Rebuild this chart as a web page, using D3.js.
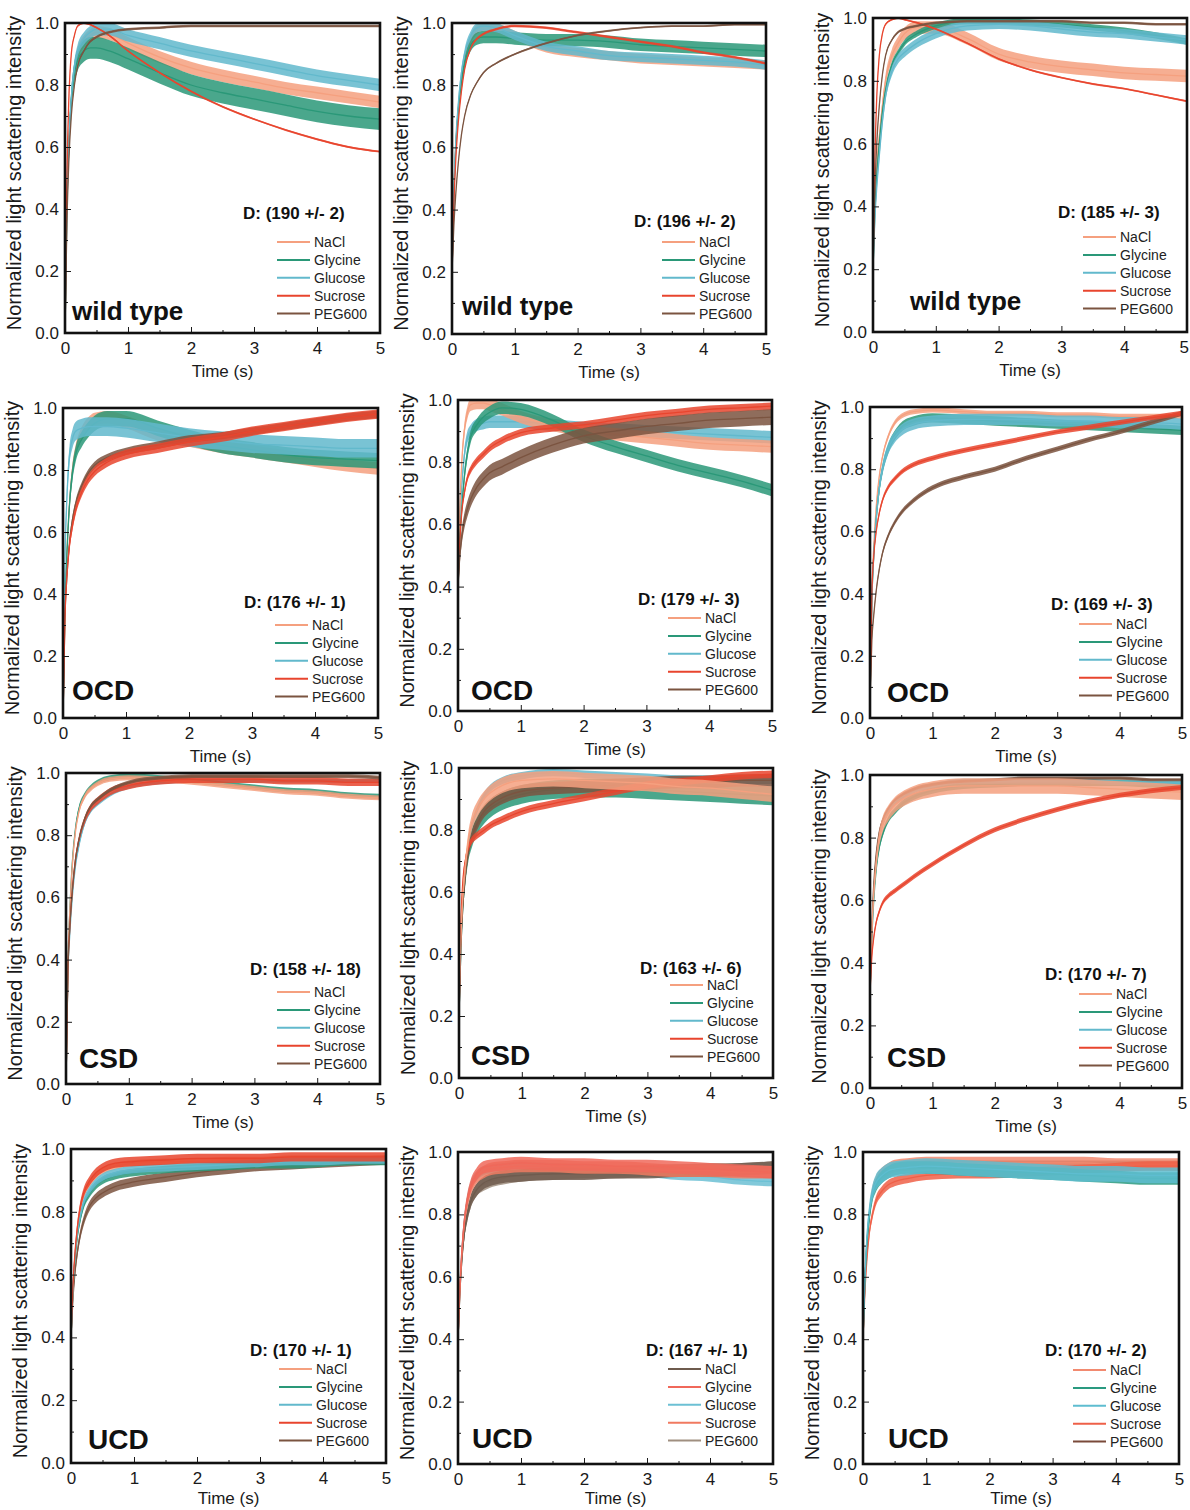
<!DOCTYPE html>
<html>
<head>
<meta charset="utf-8">
<script src="https://cdn.jsdelivr.net/npm/d3@7"></script>
<style>
  body { margin: 0; background: #fff; }
  svg { display: block; font-family: "Liberation Sans", Arial, sans-serif; }
</style>
</head>
<body>
<svg id="chart" width="1190" height="1510"></svg>
<script>
// shared time base (s)
const time = [0, 0.03, 0.06, 0.1, 0.15, 0.2, 0.3, 0.4, 0.5, 0.7, 1, 1.5, 2, 2.5, 3, 3.5, 4, 4.5, 5];
const seriesNames = ['NaCl', 'Glycine', 'Glucose', 'Sucrose', 'PEG600'];

// rows: NaCl, Glycine, Glucose, Sucrose, PEG600
const wt190 = [
  [0.00, 0.40, 0.60, 0.75, 0.85, 0.90, 0.94, 0.96, 0.97, 0.965, 0.935, 0.89, 0.855, 0.83, 0.81, 0.79, 0.775, 0.76, 0.745],
  [0.00, 0.40, 0.60, 0.75, 0.84, 0.88, 0.91, 0.92, 0.92, 0.91, 0.885, 0.84, 0.80, 0.775, 0.755, 0.735, 0.715, 0.70, 0.69],
  [0.00, 0.40, 0.60, 0.76, 0.86, 0.91, 0.95, 0.97, 0.98, 0.98, 0.96, 0.935, 0.91, 0.89, 0.87, 0.85, 0.83, 0.815, 0.80],
  [0.00, 0.50, 0.75, 0.90, 0.96, 0.99, 1.00, 0.995, 0.985, 0.96, 0.91, 0.84, 0.78, 0.73, 0.69, 0.655, 0.625, 0.60, 0.585],
  [0.00, 0.35, 0.55, 0.70, 0.80, 0.86, 0.91, 0.94, 0.955, 0.97, 0.98, 0.985, 0.99, 0.99, 0.99, 0.99, 0.99, 0.99, 0.99],
];
const wt196 = [
  [0.20, 0.45, 0.60, 0.72, 0.82, 0.88, 0.95, 0.98, 0.99, 0.985, 0.96, 0.92, 0.905, 0.895, 0.885, 0.88, 0.875, 0.87, 0.865],
  [0.20, 0.45, 0.60, 0.72, 0.81, 0.87, 0.93, 0.95, 0.955, 0.955, 0.95, 0.945, 0.945, 0.94, 0.93, 0.925, 0.92, 0.915, 0.91],
  [0.20, 0.46, 0.62, 0.74, 0.84, 0.90, 0.96, 0.985, 0.99, 0.985, 0.96, 0.925, 0.91, 0.895, 0.89, 0.885, 0.88, 0.875, 0.865],
  [0.20, 0.42, 0.56, 0.68, 0.78, 0.85, 0.92, 0.95, 0.965, 0.98, 0.99, 0.985, 0.97, 0.955, 0.94, 0.925, 0.905, 0.89, 0.87],
  [0.20, 0.35, 0.45, 0.55, 0.64, 0.70, 0.77, 0.81, 0.84, 0.87, 0.90, 0.935, 0.96, 0.975, 0.985, 0.99, 0.99, 0.995, 0.995],
];
const wt185 = [
  [0.20, 0.40, 0.52, 0.62, 0.72, 0.80, 0.88, 0.92, 0.95, 0.97, 0.97, 0.935, 0.885, 0.86, 0.845, 0.835, 0.825, 0.82, 0.815],
  [0.20, 0.38, 0.50, 0.60, 0.70, 0.77, 0.85, 0.89, 0.92, 0.95, 0.975, 0.99, 0.99, 0.985, 0.98, 0.97, 0.96, 0.945, 0.925],
  [0.20, 0.36, 0.46, 0.56, 0.67, 0.75, 0.83, 0.87, 0.89, 0.92, 0.95, 0.975, 0.98, 0.975, 0.965, 0.955, 0.95, 0.94, 0.93],
  [0.20, 0.55, 0.75, 0.88, 0.95, 0.98, 0.995, 1.00, 0.995, 0.985, 0.965, 0.92, 0.87, 0.835, 0.81, 0.79, 0.775, 0.755, 0.735],
  [0.20, 0.45, 0.60, 0.72, 0.82, 0.88, 0.93, 0.955, 0.965, 0.975, 0.985, 0.99, 0.99, 0.99, 0.99, 0.985, 0.985, 0.98, 0.98],
];
const ocd176 = [
  [0.00, 0.35, 0.52, 0.68, 0.80, 0.86, 0.92, 0.95, 0.965, 0.97, 0.955, 0.915, 0.895, 0.875, 0.86, 0.845, 0.83, 0.815, 0.805],
  [0.00, 0.35, 0.52, 0.68, 0.79, 0.85, 0.90, 0.93, 0.95, 0.965, 0.965, 0.935, 0.905, 0.88, 0.865, 0.85, 0.84, 0.835, 0.83],
  [0.00, 0.50, 0.70, 0.84, 0.90, 0.925, 0.935, 0.94, 0.94, 0.94, 0.935, 0.92, 0.905, 0.895, 0.885, 0.88, 0.875, 0.87, 0.87],
  [0.00, 0.32, 0.45, 0.55, 0.62, 0.67, 0.73, 0.77, 0.795, 0.825, 0.85, 0.87, 0.89, 0.905, 0.925, 0.94, 0.955, 0.97, 0.98],
  [0.00, 0.32, 0.45, 0.56, 0.64, 0.69, 0.75, 0.79, 0.815, 0.84, 0.86, 0.88, 0.90, 0.91, 0.925, 0.94, 0.955, 0.97, 0.98],
];
const ocd179 = [
  [0.40, 0.65, 0.80, 0.90, 0.96, 0.985, 0.99, 0.99, 0.985, 0.97, 0.945, 0.92, 0.90, 0.89, 0.88, 0.87, 0.86, 0.855, 0.85],
  [0.40, 0.55, 0.65, 0.75, 0.83, 0.88, 0.92, 0.945, 0.96, 0.975, 0.97, 0.935, 0.885, 0.85, 0.82, 0.79, 0.765, 0.74, 0.71],
  [0.40, 0.60, 0.72, 0.82, 0.88, 0.90, 0.92, 0.925, 0.93, 0.93, 0.93, 0.92, 0.91, 0.905, 0.90, 0.895, 0.89, 0.885, 0.88],
  [0.40, 0.55, 0.64, 0.70, 0.75, 0.775, 0.805, 0.825, 0.845, 0.87, 0.895, 0.91, 0.92, 0.935, 0.95, 0.96, 0.97, 0.975, 0.98],
  [0.40, 0.50, 0.56, 0.61, 0.65, 0.68, 0.72, 0.745, 0.765, 0.785, 0.815, 0.855, 0.885, 0.90, 0.915, 0.925, 0.935, 0.94, 0.945],
];
const ocd169 = [
  [0.05, 0.40, 0.55, 0.68, 0.78, 0.84, 0.91, 0.95, 0.97, 0.985, 0.99, 0.985, 0.98, 0.98, 0.975, 0.975, 0.97, 0.97, 0.97],
  [0.05, 0.38, 0.52, 0.64, 0.74, 0.80, 0.87, 0.91, 0.935, 0.955, 0.965, 0.96, 0.955, 0.95, 0.945, 0.94, 0.935, 0.93, 0.925],
  [0.05, 0.38, 0.52, 0.64, 0.74, 0.80, 0.87, 0.905, 0.925, 0.945, 0.955, 0.96, 0.96, 0.96, 0.955, 0.955, 0.95, 0.95, 0.945],
  [0.05, 0.40, 0.52, 0.60, 0.66, 0.70, 0.745, 0.77, 0.79, 0.815, 0.835, 0.86, 0.88, 0.90, 0.92, 0.935, 0.95, 0.965, 0.98],
  [0.05, 0.25, 0.33, 0.41, 0.48, 0.53, 0.59, 0.63, 0.66, 0.70, 0.74, 0.775, 0.80, 0.835, 0.865, 0.895, 0.92, 0.95, 0.98],
];
const csd158 = [
  [0.00, 0.38, 0.55, 0.70, 0.81, 0.87, 0.925, 0.95, 0.965, 0.98, 0.985, 0.98, 0.97, 0.96, 0.95, 0.94, 0.935, 0.925, 0.92],
  [0.00, 0.38, 0.55, 0.71, 0.82, 0.88, 0.93, 0.955, 0.97, 0.985, 0.99, 0.985, 0.975, 0.965, 0.955, 0.945, 0.94, 0.93, 0.925],
  [0.00, 0.35, 0.48, 0.60, 0.70, 0.76, 0.84, 0.88, 0.90, 0.93, 0.955, 0.97, 0.975, 0.975, 0.975, 0.975, 0.975, 0.975, 0.975],
  [0.00, 0.36, 0.50, 0.62, 0.72, 0.78, 0.85, 0.89, 0.91, 0.94, 0.96, 0.975, 0.98, 0.98, 0.98, 0.975, 0.975, 0.97, 0.97],
  [0.00, 0.36, 0.50, 0.62, 0.72, 0.78, 0.855, 0.895, 0.915, 0.945, 0.97, 0.985, 0.99, 0.99, 0.99, 0.99, 0.99, 0.99, 0.985],
];
const csd163 = [
  [0.20, 0.45, 0.58, 0.68, 0.77, 0.82, 0.87, 0.90, 0.92, 0.945, 0.96, 0.965, 0.96, 0.955, 0.95, 0.94, 0.935, 0.925, 0.915],
  [0.20, 0.42, 0.55, 0.65, 0.73, 0.77, 0.82, 0.85, 0.87, 0.895, 0.915, 0.93, 0.935, 0.935, 0.93, 0.925, 0.92, 0.915, 0.91],
  [0.20, 0.44, 0.57, 0.67, 0.76, 0.81, 0.87, 0.91, 0.935, 0.96, 0.975, 0.985, 0.98, 0.975, 0.97, 0.965, 0.965, 0.96, 0.96],
  [0.20, 0.50, 0.63, 0.70, 0.745, 0.765, 0.785, 0.80, 0.815, 0.835, 0.86, 0.885, 0.905, 0.925, 0.945, 0.955, 0.965, 0.975, 0.98],
  [0.20, 0.42, 0.55, 0.65, 0.73, 0.775, 0.825, 0.86, 0.88, 0.905, 0.925, 0.935, 0.94, 0.945, 0.95, 0.955, 0.955, 0.96, 0.96],
];
const csd170 = [
  [0.30, 0.50, 0.62, 0.72, 0.80, 0.84, 0.88, 0.905, 0.92, 0.94, 0.955, 0.965, 0.965, 0.965, 0.965, 0.96, 0.955, 0.95, 0.945],
  [0.30, 0.48, 0.60, 0.70, 0.77, 0.81, 0.86, 0.885, 0.905, 0.93, 0.95, 0.965, 0.97, 0.975, 0.975, 0.975, 0.975, 0.97, 0.97],
  [0.30, 0.50, 0.62, 0.72, 0.80, 0.84, 0.885, 0.91, 0.925, 0.95, 0.965, 0.98, 0.98, 0.98, 0.98, 0.98, 0.975, 0.975, 0.975],
  [0.30, 0.42, 0.48, 0.53, 0.565, 0.59, 0.615, 0.63, 0.645, 0.675, 0.715, 0.775, 0.825, 0.86, 0.89, 0.915, 0.935, 0.95, 0.96],
  [0.30, 0.52, 0.65, 0.75, 0.82, 0.855, 0.895, 0.92, 0.935, 0.955, 0.97, 0.98, 0.985, 0.99, 0.99, 0.99, 0.99, 0.985, 0.985],
];
const ucd170 = [
  [0.40, 0.55, 0.65, 0.74, 0.81, 0.85, 0.89, 0.915, 0.93, 0.945, 0.955, 0.96, 0.96, 0.965, 0.965, 0.97, 0.97, 0.97, 0.97],
  [0.40, 0.55, 0.64, 0.72, 0.78, 0.82, 0.86, 0.885, 0.90, 0.915, 0.925, 0.935, 0.94, 0.945, 0.95, 0.95, 0.955, 0.96, 0.96],
  [0.40, 0.55, 0.65, 0.73, 0.79, 0.83, 0.87, 0.895, 0.91, 0.925, 0.935, 0.94, 0.945, 0.95, 0.955, 0.96, 0.96, 0.965, 0.965],
  [0.40, 0.56, 0.66, 0.75, 0.82, 0.86, 0.90, 0.925, 0.94, 0.955, 0.96, 0.965, 0.97, 0.97, 0.97, 0.975, 0.975, 0.975, 0.975],
  [0.40, 0.52, 0.60, 0.67, 0.73, 0.77, 0.82, 0.845, 0.86, 0.88, 0.895, 0.91, 0.925, 0.935, 0.945, 0.95, 0.955, 0.96, 0.965],
];
const ucd167 = [
  [0.40, 0.55, 0.65, 0.74, 0.80, 0.84, 0.88, 0.90, 0.91, 0.92, 0.925, 0.93, 0.93, 0.935, 0.935, 0.94, 0.94, 0.945, 0.95],
  [0.40, 0.57, 0.68, 0.78, 0.85, 0.89, 0.93, 0.95, 0.955, 0.96, 0.965, 0.96, 0.96, 0.955, 0.955, 0.95, 0.945, 0.94, 0.935],
  [0.40, 0.57, 0.68, 0.78, 0.85, 0.89, 0.925, 0.94, 0.945, 0.95, 0.955, 0.95, 0.945, 0.94, 0.935, 0.925, 0.92, 0.91, 0.905],
  [0.40, 0.56, 0.67, 0.77, 0.84, 0.88, 0.92, 0.935, 0.945, 0.95, 0.955, 0.955, 0.95, 0.95, 0.945, 0.94, 0.94, 0.935, 0.935],
  [0.40, 0.55, 0.65, 0.74, 0.80, 0.84, 0.88, 0.895, 0.905, 0.915, 0.925, 0.93, 0.935, 0.935, 0.94, 0.94, 0.945, 0.945, 0.95],
];
const ucd170b = [
  [0.40, 0.58, 0.70, 0.80, 0.87, 0.90, 0.93, 0.945, 0.955, 0.96, 0.965, 0.965, 0.965, 0.965, 0.965, 0.965, 0.96, 0.96, 0.96],
  [0.40, 0.58, 0.70, 0.79, 0.86, 0.89, 0.92, 0.935, 0.945, 0.95, 0.95, 0.945, 0.94, 0.935, 0.93, 0.925, 0.92, 0.915, 0.915],
  [0.40, 0.60, 0.72, 0.81, 0.87, 0.90, 0.925, 0.94, 0.945, 0.95, 0.955, 0.95, 0.945, 0.94, 0.935, 0.93, 0.93, 0.925, 0.925],
  [0.40, 0.55, 0.65, 0.74, 0.80, 0.84, 0.875, 0.895, 0.905, 0.915, 0.925, 0.93, 0.93, 0.935, 0.94, 0.945, 0.95, 0.955, 0.955],
  [0.40, 0.58, 0.70, 0.80, 0.87, 0.90, 0.93, 0.945, 0.955, 0.96, 0.965, 0.965, 0.965, 0.965, 0.965, 0.965, 0.965, 0.965, 0.965],
];

// half-width of the noise band
const noiseWt190 = [0.02, 0.035, 0.02, 0.003, 0.004];
const noiseWt196 = [0.015, 0.02, 0.015, 0.004, 0.003];
const noiseWt185 = [0.02, 0.01, 0.015, 0.003, 0.004];
const noiseOcd176 = [0.02, 0.025, 0.03, 0.015, 0.012];
const noiseOcd179 = [0.02, 0.02, 0.02, 0.012, 0.025];
const noiseOcd169 = [0.008, 0.015, 0.018, 0.008, 0.008];
const noiseCsd158 = [0.008, 0.008, 0.006, 0.012, 0.006];
const noiseCsd163 = [0.025, 0.03, 0.012, 0.012, 0.02];
const noiseCsd170 = [0.025, 0.01, 0.008, 0.008, 0.005];
const noiseUcd170 = [0.01, 0.012, 0.012, 0.015, 0.015];
const noiseUcd167 = [0.02, 0.02, 0.015, 0.02, 0.02];
const noiseUcd170b = [0.02, 0.02, 0.025, 0.015, 0.008];

const yTicks = [0, 0.2, 0.4, 0.6, 0.8, 1.0];
const xTicks = [0, 1, 2, 3, 4, 5];

const defaultColors = ['#f5a07f', '#2a9878', '#62b9cc', '#e8452e', '#7b5440'];
const colorsUcd167 = ['#6e5b4e', '#f0685a', '#6cc0d4', '#f07a60', '#a08f80'];
const colorsUcd170b = ['#f28a70', '#2a9a80', '#5ebdd0', '#ee6048', '#7a4a3a'];

// panel layout: frame [x0,y0,x1,y1], label baseline, D text baseline, legend line start / first row
const panels = [
  { values: wt190, noise: noiseWt190, title: 'wild type', tsize: 26, d: 'D: (190 +/- 2)', frame: [65, 23, 380, 333], tpos: [72, 320], dpos: [243, 219], leg: [277, 242] },
  { values: wt196, noise: noiseWt196, title: 'wild type', tsize: 26, d: 'D: (196 +/- 2)', frame: [452, 23, 766, 334], tpos: [462, 315], dpos: [634, 227], leg: [662, 242] },
  { values: wt185, noise: noiseWt185, title: 'wild type', tsize: 26, d: 'D: (185 +/- 3)', frame: [873, 18, 1187, 332], tpos: [910, 310], dpos: [1058, 218], leg: [1083, 237] },
  { values: ocd176, noise: noiseOcd176, title: 'OCD', tsize: 28, d: 'D: (176 +/- 1)', frame: [63, 408, 378, 718], tpos: [72, 700], dpos: [244, 608], leg: [275, 625], order: [0, 1, 2, 4, 3] },
  { values: ocd179, noise: noiseOcd179, title: 'OCD', tsize: 28, d: 'D: (179 +/- 3)', frame: [458, 400, 772, 711], tpos: [471, 700], dpos: [638, 605], leg: [668, 618], order: [2, 0, 1, 3, 4] },
  { values: ocd169, noise: noiseOcd169, title: 'OCD', tsize: 28, d: 'D: (169 +/- 3)', frame: [870, 407, 1182, 718], tpos: [887, 702], dpos: [1051, 610], leg: [1079, 624], order: [0, 1, 2, 4, 3] },
  { values: csd158, noise: noiseCsd158, title: 'CSD', tsize: 28, d: 'D: (158 +/- 18)', frame: [66, 773, 380, 1084], tpos: [79, 1068], dpos: [250, 975], leg: [277, 992], order: [2, 1, 0, 3, 4] },
  { values: csd163, noise: noiseCsd163, title: 'CSD', tsize: 28, d: 'D: (163 +/- 6)', frame: [459, 768, 773, 1078], tpos: [471, 1065], dpos: [640, 974], leg: [670, 985], order: [2, 1, 4, 3, 0] },
  { values: csd170, noise: noiseCsd170, title: 'CSD', tsize: 28, d: 'D: (170 +/- 7)', frame: [870, 775, 1182, 1088], tpos: [887, 1067], dpos: [1045, 980], leg: [1079, 994], order: [1, 2, 4, 0, 3] },
  { values: ucd170, noise: noiseUcd170, title: 'UCD', tsize: 28, d: 'D: (170 +/- 1)', frame: [71, 1149, 386, 1463], tpos: [88, 1449], dpos: [250, 1356], leg: [279, 1369], order: [4, 0, 1, 2, 3] },
  { values: ucd167, noise: noiseUcd167, title: 'UCD', tsize: 28, d: 'D: (167 +/- 1)', frame: [458, 1152, 773, 1464], tpos: [472, 1448], dpos: [646, 1356], leg: [668, 1369], colors: colorsUcd167, order: [2, 4, 0, 3, 1] },
  { values: ucd170b, noise: noiseUcd170b, title: 'UCD', tsize: 28, d: 'D: (170 +/- 2)', frame: [863, 1152, 1179, 1464], tpos: [888, 1448], dpos: [1045, 1356], leg: [1073, 1370], colors: colorsUcd170b, order: [4, 0, 3, 1, 2] },
];

const svg = d3.select('#chart');
const ink = '#1a1a1a';
const pageW = 1190;
const pageH = 1510;

panels.forEach((p, i) => {
  const [x0, y0, x1, y1] = p.frame;
  const w = x1 - x0;
  const h = y1 - y0;
  const colors = p.colors || defaultColors;
  const order = p.order || [0, 1, 2, 3, 4];

  const x = d3.scaleLinear().domain([0, 5]).range([0, w]);
  const y = d3.scaleLinear().domain([0, 1]).range([h, 0]);

  const g = svg.append('g').attr('transform', `translate(${x0},${y0})`);

  g.append('clipPath').attr('id', `clip${i}`)
    .append('rect').attr('width', w).attr('height', h);
  const plot = g.append('g').attr('clip-path', `url(#clip${i})`);

  // traces: noise band + centre line
  order.forEach((k) => {
    const n = p.noise[k];
    const pts = time.map((t, j) => [t, p.values[k][j]]);
    plot.append('path')
      .datum(pts)
      .attr('fill', colors[k])
      .attr('opacity', 0.85)
      .attr('d', d3.area()
        .x((d) => x(d[0]))
        .y0((d) => y(d[1] - n))
        .y1((d) => y(d[1] + n))
        .curve(d3.curveMonotoneX));
    plot.append('path')
      .datum(pts)
      .attr('fill', 'none')
      .attr('stroke', colors[k])
      .attr('stroke-width', 1.3)
      .attr('d', d3.line()
        .x((d) => x(d[0]))
        .y((d) => y(d[1]))
        .curve(d3.curveMonotoneX));
  });

  // axes, ticks pointing inward
  const xAxis = g.append('g').attr('transform', `translate(0,${h})`)
    .call(d3.axisBottom(x).tickValues(xTicks).tickSize(-6).tickPadding(9).tickFormat(d3.format('d')));
  g.append('g').attr('transform', `translate(0,${h})`)
    .call(d3.axisBottom(x).tickValues(d3.range(0.5, 5, 1)).tickSize(-3).tickFormat(''));
  const yAxis = g.append('g')
    .call(d3.axisLeft(y).tickValues(yTicks).tickSize(-6).tickPadding(6).tickFormat(d3.format('.1f')));
  g.append('g')
    .call(d3.axisLeft(y).tickValues(d3.range(0.1, 1, 0.2)).tickSize(-3).tickFormat(''));

  g.selectAll('.domain').remove();
  g.selectAll('.tick line').attr('stroke', ink).attr('stroke-width', 1);
  [xAxis, yAxis].forEach((a) => a.selectAll('text')
    .attr('fill', ink)
    .style('font-size', '17px')
    .style('font-family', '"Liberation Sans", Arial, sans-serif'));

  g.append('rect')
    .attr('width', w)
    .attr('height', h)
    .attr('fill', 'none')
    .attr('stroke', '#111')
    .attr('stroke-width', 2.6);

  // keep the x title inside the page on the bottom row
  const titleY = Math.min(h + 44, pageH - 6 - y0);
  g.append('text')
    .attr('x', w / 2)
    .attr('y', titleY)
    .attr('text-anchor', 'middle')
    .attr('fill', ink)
    .style('font-size', '17px')
    .text('Time (s)');

  g.append('text')
    .attr('transform', `translate(-44,${h / 2 - 5}) rotate(-90)`)
    .attr('text-anchor', 'middle')
    .attr('fill', ink)
    .style('font-size', '20px')
    .text('Normalized light scattering intensity');

  // panel label and diameter
  svg.append('text')
    .attr('x', p.tpos[0])
    .attr('y', p.tpos[1])
    .attr('fill', '#111')
    .style('font-size', `${p.tsize}px`)
    .style('font-weight', 'bold')
    .text(p.title);

  svg.append('text')
    .attr('x', p.dpos[0])
    .attr('y', p.dpos[1])
    .attr('fill', '#111')
    .style('font-size', '17px')
    .style('font-weight', 'bold')
    .text(p.d);

  // legend
  seriesNames.forEach((name, k) => {
    const ly = p.leg[1] + k * 17.9;
    svg.append('line')
      .attr('x1', p.leg[0])
      .attr('x2', p.leg[0] + 33)
      .attr('y1', ly)
      .attr('y2', ly)
      .attr('stroke', colors[k])
      .attr('stroke-width', 2);
    svg.append('text')
      .attr('x', p.leg[0] + 37)
      .attr('y', ly + 5)
      .attr('fill', '#222')
      .style('font-size', '14px')
      .text(name);
  });

  // nudge tick labels that would run past the right page edge
  xAxis.selectAll('.tick text').each(function () {
    const bb = this.getBBox();
    const right = x0 + bb.x + bb.width + (d3.select(this.parentNode).attr('transform')
      ? +d3.select(this.parentNode).attr('transform').match(/translate\(([-\d.]+)/)[1] : 0);
    if (right > pageW - 1) d3.select(this).attr('x', pageW - 1 - right);
  });
});
</script>
</body>
</html>
